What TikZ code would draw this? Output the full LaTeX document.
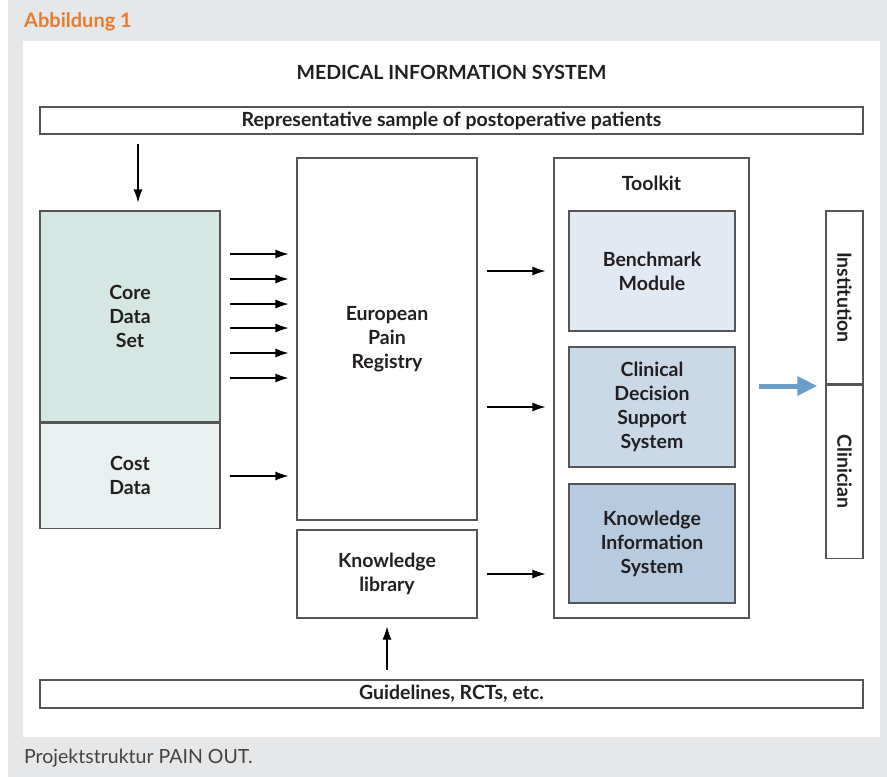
\documentclass[tikz,border=0pt]{standalone}
\usepackage{fontspec}
\setmainfont{Lato}
\usepackage{tikz}
\usetikzlibrary{arrows.meta,positioning}

\definecolor{framegray}{HTML}{E6E7E8}
\definecolor{textdark}{HTML}{231F20}
\definecolor{boxgray}{HTML}{555555}
\definecolor{headorange}{HTML}{E87B2E}
\definecolor{corefill}{HTML}{D5E7E3}
\definecolor{costfill}{HTML}{E8F1F0}
\definecolor{benchfill}{HTML}{E3E9F2}
\definecolor{cdssfill}{HTML}{C9D9E8}
\definecolor{kisfill}{HTML}{B6CBE0}
\definecolor{outblue}{HTML}{6B9DC6}

\tikzstyle{block} = [rectangle, draw=boxgray, line width=1.1pt, align=center,
    text centered, inner sep=0pt, font=\bfseries\fontsize{19.5}{24}\selectfont]
\tikzstyle{line} = [draw, line width=1.1pt, shorten <=9pt, shorten >=8pt,
    -{Latex[length=13pt,width=9pt]}]

\begin{document}
\begin{tikzpicture}[x=1pt, y=-1pt, text=textdark]
  % frame
  \fill[framegray] (8,0) rectangle (887,777);
  \fill[white] (23,41) rectangle (880,737);
  \useasboundingbox (0,0) rectangle (887,777);
  \node[anchor=base west, inner sep=0pt, text=headorange,
        font=\bfseries\fontsize{20}{22}\selectfont] (fig) at (24,27) {Abbildung 1};
  \node[anchor=base west, inner sep=0pt, text=textdark!85,
        font=\fontsize{19.5}{20}\selectfont] (caption) at (24,763) {Projektstruktur PAIN OUT.};
  \node[inner sep=0pt, font=\bfseries\fontsize{19.5}{20}\selectfont] (title) at (451.5,72) {MEDICAL INFORMATION SYSTEM};

  % nodes
  \node [block, minimum width=823pt, minimum height=27pt] (sample) at (451.5,120.5)
        {Representative sample of postoperative patients};
  \node [block, minimum width=823pt, minimum height=28pt] (guide) at (451.5,694)
        {Guidelines, RCTs, etc.};
  \node [block, fill=corefill, minimum width=180pt, minimum height=211pt] (core) at (130,316.5)
        {Core\\Data\\Set};
  \node [block, fill=costfill, minimum width=180pt, minimum height=105pt, below=0pt of core] (cost)
        {Cost\\Data};
  \node [block, minimum width=180pt, minimum height=362pt] (registry) at (387,339)
        {European\\Pain\\Registry};
  \node [block, minimum width=180pt, minimum height=88pt] (library) at (387,574)
        {Knowledge\\library};
  \node [block, minimum width=195pt, minimum height=460pt] (toolkit) at (651.5,388) {};
  \node [inner sep=0pt, font=\bfseries\fontsize{19.5}{24}\selectfont] (toolkitlabel) at (651.5,183) {Toolkit};
  \node [block, fill=benchfill, minimum width=166pt, minimum height=120pt] (bench) at (652,271)
        {Benchmark\\Module};
  \node [block, fill=cdssfill, minimum width=166pt, minimum height=120pt] (cdss) at (652,407)
        {Clinical\\Decision\\Support\\System};
  \node [block, fill=kisfill, minimum width=166pt, minimum height=119pt] (kis) at (652,543.5)
        {Knowledge\\Information\\System};
  \node [block, minimum width=37pt, minimum height=173pt] (inst) at (844.5,297.5) {};
  \node [block, minimum width=37pt, minimum height=173pt, below=0pt of inst] (clin) {};
  \node [rotate=-90, inner sep=0pt, font=\bfseries\fontsize{19.5}{24}\selectfont] at (inst) {Institution};
  \node [rotate=-90, inner sep=0pt, font=\bfseries\fontsize{19.5}{24}\selectfont] at (clin) {Clinician};

  % edges
  \path [line] (sample.south -| 138,0) -- (core.north -| 138,0);
  \foreach \y in {254,279,304,328,353,378}
    \path [line] (core.east |- 0,\y) -- (registry.west |- 0,\y);
  \path [line] (cost.east |- 0,476) -- (registry.west |- 0,476);
  \path [line] (registry.east |- bench) -- (toolkit.west |- bench);
  \path [line] (registry.east |- cdss) -- (toolkit.west |- cdss);
  \path [line] (library.east |- 0,574) -- (toolkit.west |- 0,574);
  \path [line] (guide.north -| library) -- (library.south);
  \draw [outblue, line width=5pt, shorten <=9pt, shorten >=8pt, -{Triangle[length=20pt,width=18pt]}]
        (toolkit.east |- 0,386) -- (inst.west |- 0,386);
\end{tikzpicture}
\end{document}
